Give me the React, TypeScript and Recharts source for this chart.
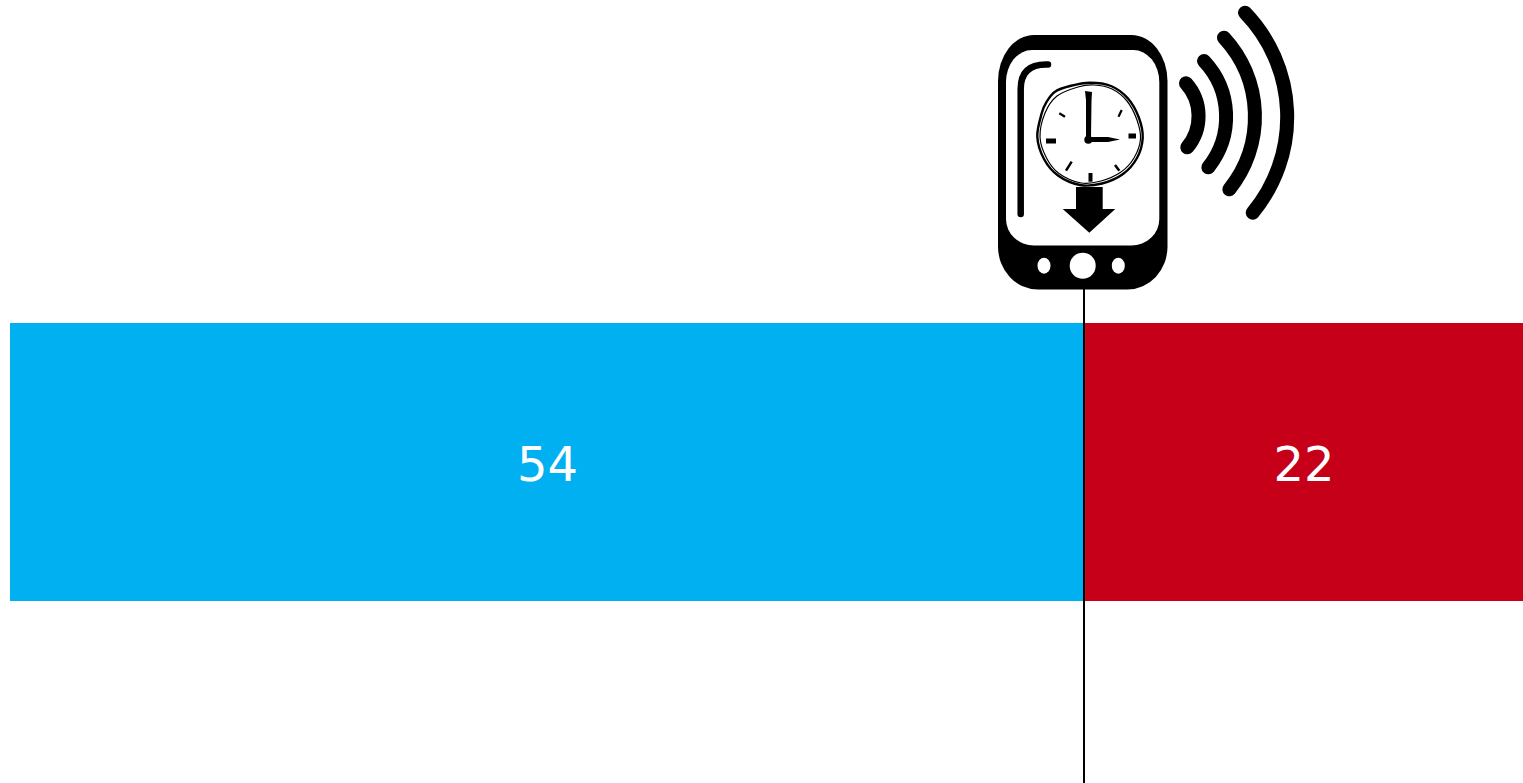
import {Bar, BarChart, LabelList, ReferenceLine, XAxis, YAxis} from 'recharts'

const CATEGORIES = ['Total']
const ON_TIME_VALUES = [54]
const LATE_VALUES = [22]
const MARKER_VALUE = 54
const AXIS_MAX = 76

const chartData = CATEGORIES.map((name, index) => ({
    name,
    onTime: ON_TIME_VALUES[index],
    late: LATE_VALUES[index],
}))

// closed Catmull-Rom curve, used for the hand-drawn clock outline
const smoothClosed = (pts: number[][]) => {
    const n = pts.length
    let d = `M${pts[0][0]} ${pts[0][1]}`
    for (let i = 0; i < n; i++) {
        const p0 = pts[(i - 1 + n) % n]
        const p1 = pts[i]
        const p2 = pts[(i + 1) % n]
        const p3 = pts[(i + 2) % n]
        const c1 = [p1[0] + (p2[0] - p0[0]) / 6, p1[1] + (p2[1] - p0[1]) / 6]
        const c2 = [p2[0] - (p3[0] - p1[0]) / 6, p2[1] - (p3[1] - p1[1]) / 6]
        d += ` C${c1[0]} ${c1[1]} ${c2[0]} ${c2[1]} ${p2[0]} ${p2[1]}`
    }
    return d + ' Z'
}

const CLOCK_OUTLINE = [
    [-46.7, 136.7], [-42.3, 113.3], [-37.3, 101.7], [-29, 91.7], [-14, 86], [6, 82.7], [27, 86], [44, 98.5],
    [55, 118], [58.7, 138], [53, 158], [39, 174], [18, 183.5], [-4, 185], [-26, 175.5], [-40, 159],
]
const CLOCK_SKETCH = [
    [-44, 137], [-39, 113], [-27, 96], [-6, 87], [10, 85], [28, 89], [43, 101],
    [53, 120], [56.5, 139], [50, 158], [37, 172], [17, 181], [-3, 183], [-25, 173.5], [-37.5, 158],
]

const CLOCK_TICKS = [
    [44.5, 136, 52, 136, 5],
    [-38, 141, -28, 141, 5],
    [6.5, 173, 6.5, 181.7, 4],
    [34.5, 116.7, 37.7, 110, 2.2],
    [-24.7, 113.3, -19, 116.7, 2.2],
    [31, 165, 35.3, 170.7, 2.5],
    [-18, 170.7, -12.3, 161.7, 2.5],
]

const WAVES = [
    'M102 83.3 A49 49 0 0 1 103.3 147.3',
    'M120 61 A81 81 0 0 1 124.3 167.3',
    'M140 37.7 A116 116 0 0 1 145.3 189.3',
    'M161 12.7 A150 150 0 0 1 168.7 212.7',
]

// phone icon sits on top of the marker line, origin at the line's x
const PhoneIcon = () => (
    <g>
        <path
            d="M-50 35 H47.5 A36 46 0 0 1 83.5 81 V246.5 A40 43 0 0 1 43.5 289.5 H-46 A40 43 0 0 1 -86 246.5 V81 A36 46 0 0 1 -50 35 Z"
            fill="#000"/>
        <path
            d="M-52 50 H49.3 A26 32 0 0 1 75.3 82 V219 A28 26.5 0 0 1 47.3 245.5 H-50 A28 26.5 0 0 1 -78 219 V82 A26 32 0 0 1 -52 50 Z"
            fill="#fff"/>
        <ellipse cx={-40} cy={265.7} rx={6.5} ry={8} fill="#fff"/>
        <circle cx={-1.3} cy={265.7} r={13} fill="#fff"/>
        <ellipse cx={34.3} cy={265.7} rx={6.5} ry={8} fill="#fff"/>
        <path d="M-63.3 214 V89 Q-63.3 64.5 -38 64.5 H-36" fill="none" stroke="#000" strokeWidth={6.5}
              strokeLinecap="round"/>
        <path d={smoothClosed(CLOCK_OUTLINE)} fill="#fff" stroke="#000" strokeWidth={2.4}/>
        <path d={smoothClosed(CLOCK_SKETCH)} fill="none" stroke="#000" strokeWidth={1.2}/>
        {CLOCK_TICKS.map(([x1, y1, x2, y2, w], index) => (
            <line key={index} x1={x1} y1={y1} x2={x2} y2={y2} stroke="#000" strokeWidth={w}/>
        ))}
        <path d="M1 91 L8 92 L7.5 101 L7 137 L2 140 L2 100 Z" fill="#000"/>
        <path d="M4.5 137 L24 137 L36 139.5 L24 142 L4.5 142 Z" fill="#000"/>
        <circle cx={4.3} cy={139.8} r={4} fill="#000"/>
        <path d="M-8 187 H18.7 V209 H31.3 L5.3 232.7 L-21.3 209 H-8 Z" fill="#000"/>
        {WAVES.map((d, index) => (
            <path key={index} d={d} fill="none" stroke="#000" strokeWidth={14} strokeLinecap="round"/>
        ))}
    </g>
)

const MarkerLine = ({x1}: { x1: number }) => (
    <g transform={`translate(${Math.floor(x1) - 1},0)`}>
        <line x1={0} y1={289} x2={0} y2={783} stroke="#000" strokeWidth={2}/>
        <PhoneIcon/>
    </g>
)

export default function App() {
    return (
        <div style={{position: 'absolute', left: 0, top: 0, width: 1523, height: 783, background: '#fff'}}>
            <BarChart
                width={1523}
                height={783}
                data={chartData}
                layout="vertical"
                barCategoryGap={0}
                margin={{top: 323, right: 0, bottom: 182, left: 10}}
            >
                <XAxis type="number" domain={[0, AXIS_MAX]} hide/>
                <YAxis type="category" dataKey="name" hide/>
                <Bar dataKey="onTime" stackId="a" fill="#00B0F0" isAnimationActive={false}>
                    <LabelList dataKey="onTime" position="center" fill="#fff" fontSize={48} dy={2}
                               fontFamily="DejaVu Sans"/>
                </Bar>
                <Bar dataKey="late" stackId="a" fill="#C50018" isAnimationActive={false}>
                    <LabelList dataKey="late" position="center" fill="#fff" fontSize={48} dy={2}
                               fontFamily="DejaVu Sans"/>
                </Bar>
                <ReferenceLine x={MARKER_VALUE} ifOverflow="visible" shape={MarkerLine}/>
            </BarChart>
        </div>
    )
}
